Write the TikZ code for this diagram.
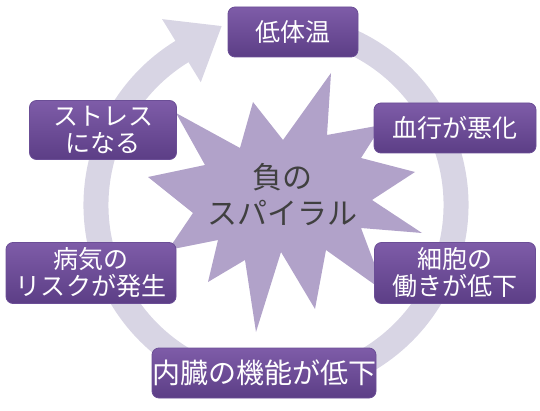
\documentclass[tikz,border=0pt]{standalone}
\usepackage{fontspec}
\newfontfamily\jpfont{Noto Sans CJK JP}
\usetikzlibrary{positioning}
\definecolor{RingGray}{HTML}{D8D5E4}
\definecolor{StarLilac}{HTML}{B1A2C9}
\definecolor{BoxTop}{HTML}{7E5CA8}
\definecolor{BoxBottom}{HTML}{5C3E86}
\definecolor{BoxEdge}{HTML}{6B4E96}
\definecolor{Charcoal}{HTML}{404040}

\begin{document}
\begin{tikzpicture}[x=1pt, y=1pt,
    stepbox/.style={rounded corners=7pt, top color=BoxTop, bottom color=BoxBottom,
        draw=BoxEdge, line width=0.8pt, text=white, align=center, inner sep=0pt,
        font=\jpfont\fontsize{25}{27}\selectfont}]
    % Canvas
    \useasboundingbox (0,0) rectangle (540,410);

    % Cycle arrow
    \coordinate (ctr) at (276,205);
    \draw[RingGray, line width=25pt] (ctr) ++(75:180) arc[start angle=75, end angle=-239.5, radius=180];
    \fill[RingGray, shift={(ctr)}] (121.5:218) -- (106.9:187) -- (121.5:144) -- cycle;

    % Burst in the middle
    \fill[StarLilac] (176,297) -- (240,262) -- (253,308) -- (283,270) -- (331,337) -- (327,275)
        -- (382,285) -- (361,252) -- (415,238) -- (372,210) -- (422,177) -- (361,182)
        -- (385,118) -- (326,160) -- (315,101) -- (281,158) -- (256,78) -- (245,150)
        -- (208,128) -- (218,170) -- (168,160) -- (193,197) -- (148,233) -- (205,245) -- cycle;
    \node[font=\jpfont\fontsize{30}{36}\selectfont, text=Charcoal, align=center] (spiral) at (282,215) {負の\\スパイラル};

    % Steps of the cycle
    \node[stepbox, minimum width=130pt, minimum height=50pt] (lowtemp) at (293,378) {低体温};
    \node[stepbox, minimum width=162pt, minimum height=50pt] (blood) at (455,282) {血行が悪化};
    \node[stepbox, minimum width=161pt, minimum height=61pt] (cells) at (455,137) {細胞の\\働きが低下};
    \node[stepbox, minimum width=218pt, minimum height=50pt, font=\jpfont\fontsize{28}{30}\selectfont] (organs) at (264,37) {内臓の機能が低下};
    \node[stepbox, minimum width=170pt, minimum height=61pt] (illness) at (91,137) {病気の\\リスクが発生};
    \node[stepbox, minimum width=147pt, minimum height=59pt] (stress) at (103,280) {ストレス\\になる};
\end{tikzpicture}
\end{document}
